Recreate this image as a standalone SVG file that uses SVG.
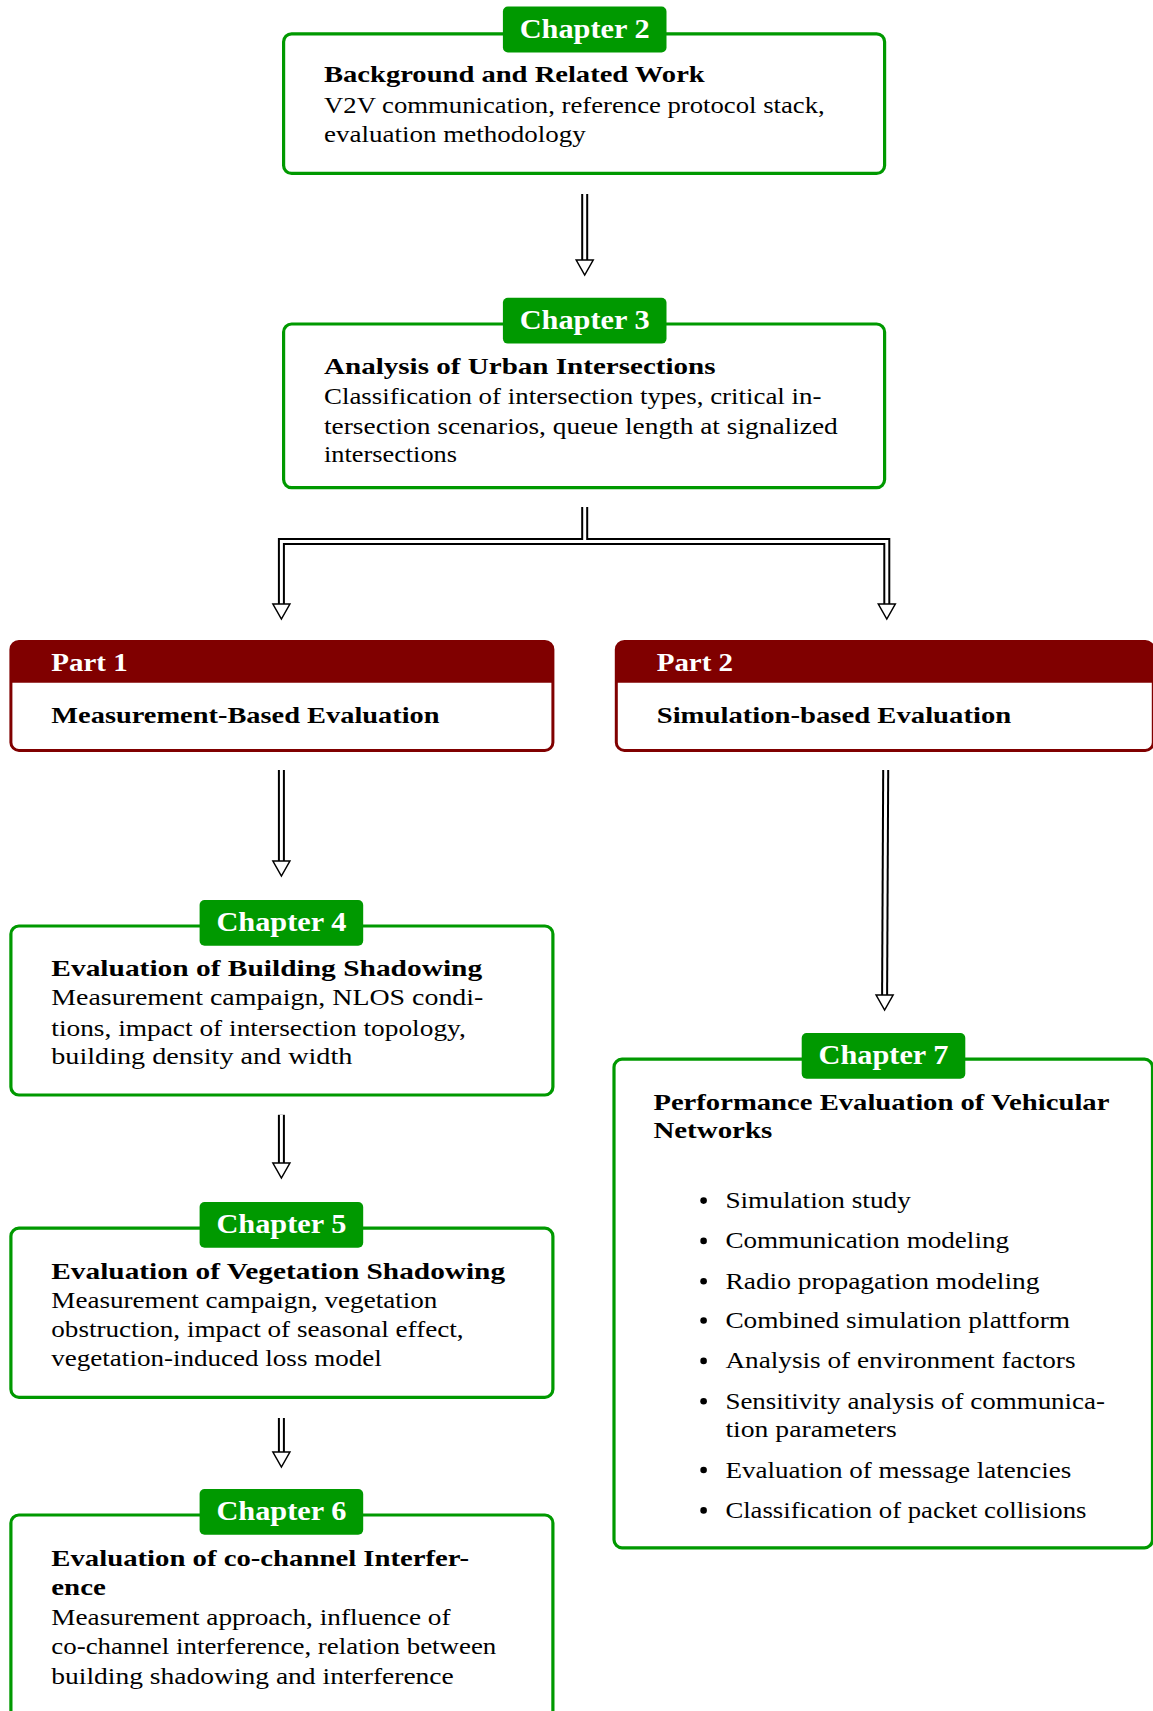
<svg xmlns="http://www.w3.org/2000/svg" xmlns:xlink="http://www.w3.org/1999/xlink" width="1153" height="1711" viewBox="0 0 1153 1711">
  <style>
    text { font-family: "Liberation Serif", "Times New Roman", serif; }
    .box { fill: #ffffff; stroke: #009900; stroke-width: 3.2; }
    .tagbg { fill: #009900; }
    .tag { fill: #ffffff; font-size: 26.5px; font-weight: bold; text-anchor: middle; }
    .pbox { fill: none; stroke: #800000; stroke-width: 3; }
    .pbg { fill: #ffffff; }
    .phead { fill: #800000; }
    .ptxt { fill: #ffffff; font-size: 26px; font-weight: bold; }
    .t { fill: #000000; font-size: 24px; font-weight: bold; }
    .b { fill: #000000; font-size: 24px; }
    .dot { fill: #000000; }
    .rail-o { fill: none; stroke: #000000; stroke-width: 7; stroke-linejoin: miter; stroke-linecap: butt; }
    .rail-i { fill: none; stroke: #ffffff; stroke-width: 3; stroke-linejoin: miter; stroke-linecap: butt; }
    .head { fill: #ffffff; stroke: #000000; stroke-width: 1.5; stroke-linejoin: miter; }
  </style>
  <defs>
    <polygon id="arrowhead" points="-8.5,-15 8.5,-15 0,0"/>
    <path id="r1" d="M584.7 194 V261"/>
    <path id="r2" d="M584.7 507 V541.5 M281.4 605 V541.5 H886.8 V605"/>
    <path id="r3" d="M281.4 770 V862"/>
    <path id="r4" d="M885.7 770 L884.6 996"/>
    <path id="r5" d="M281.4 1114.8 V1164"/>
    <path id="r6" d="M281.4 1418 V1453"/>
  </defs>

  <rect width="1153" height="1711" fill="#ffffff"/>

  <!-- connectors: double rails with open heads -->
  <g id="connectors">
    <use xlink:href="#r1" href="#r1" class="rail-o"/>
    <use xlink:href="#r2" href="#r2" class="rail-o"/>
    <use xlink:href="#r3" href="#r3" class="rail-o"/>
    <use xlink:href="#r4" href="#r4" class="rail-o"/>
    <use xlink:href="#r5" href="#r5" class="rail-o"/>
    <use xlink:href="#r6" href="#r6" class="rail-o"/>
    <use xlink:href="#r1" href="#r1" class="rail-i"/>
    <use xlink:href="#r2" href="#r2" class="rail-i"/>
    <use xlink:href="#r3" href="#r3" class="rail-i"/>
    <use xlink:href="#r4" href="#r4" class="rail-i"/>
    <use xlink:href="#r5" href="#r5" class="rail-i"/>
    <use xlink:href="#r6" href="#r6" class="rail-i"/>
    <use xlink:href="#arrowhead" href="#arrowhead" class="head" x="584.7" y="275"/>
    <use xlink:href="#arrowhead" href="#arrowhead" class="head" x="281.4" y="619"/>
    <use xlink:href="#arrowhead" href="#arrowhead" class="head" x="886.8" y="619"/>
    <use xlink:href="#arrowhead" href="#arrowhead" class="head" x="281.4" y="876"/>
    <use xlink:href="#arrowhead" href="#arrowhead" class="head" x="884.6" y="1010"/>
    <use xlink:href="#arrowhead" href="#arrowhead" class="head" x="281.4" y="1178"/>
    <use xlink:href="#arrowhead" href="#arrowhead" class="head" x="281.4" y="1467"/>
  </g>

  <!-- Chapter 2 -->
  <g id="chapter2">
    <rect class="box" x="283.6" y="33.8" width="601" height="139.6" rx="8"/>
    <rect class="tagbg" x="502.9" y="6.5" width="163.6" height="45.9" rx="5"/>
    <text class="tag" x="584.7" y="37.5" textLength="130" lengthAdjust="spacingAndGlyphs">Chapter 2</text>
    <text class="t" x="324" y="82.4" textLength="380.7" lengthAdjust="spacingAndGlyphs">Background and Related Work</text>
    <text class="b" x="324" y="112.9" textLength="500.7" lengthAdjust="spacingAndGlyphs">V2V communication, reference protocol stack,</text>
    <text class="b" x="324" y="142.4" textLength="261.8" lengthAdjust="spacingAndGlyphs">evaluation methodology</text>
  </g>

  <!-- Chapter 3 -->
  <g id="chapter3">
    <rect class="box" x="283.6" y="324" width="601" height="163.6" rx="8"/>
    <rect class="tagbg" x="502.9" y="297.8" width="163.6" height="45.8" rx="5"/>
    <text class="tag" x="584.7" y="328.5" textLength="130" lengthAdjust="spacingAndGlyphs">Chapter 3</text>
    <text class="t" x="324" y="373.6" textLength="391.6" lengthAdjust="spacingAndGlyphs">Analysis of Urban Intersections</text>
    <text class="b" x="324" y="404.1" textLength="497.4" lengthAdjust="spacingAndGlyphs">Classification of intersection types, critical in-</text>
    <text class="b" x="324" y="433.6" textLength="513.8" lengthAdjust="spacingAndGlyphs">tersection scenarios, queue length at signalized</text>
    <text class="b" x="324" y="461.9" textLength="133" lengthAdjust="spacingAndGlyphs">intersections</text>
  </g>

  <!-- Part 1 -->
  <g id="part1">
    <rect class="pbg" x="10.9" y="641.4" width="542" height="109" rx="8"/>
    <path class="phead" d="M10.9 682.8 V649.4 Q10.9 641.4 18.9 641.4 H545 Q553 641.4 553 649.4 V682.8 Z"/>
    <rect class="pbox" x="10.9" y="641.4" width="542" height="109" rx="8"/>
    <text class="ptxt" x="51.3" y="670.8" textLength="76.4" lengthAdjust="spacingAndGlyphs">Part 1</text>
    <text class="t" x="51.3" y="722.7" textLength="388.3" lengthAdjust="spacingAndGlyphs">Measurement-Based Evaluation</text>
  </g>

  <!-- Part 2 (runs off the right edge of the sheet) -->
  <g id="part2">
    <rect class="pbg" x="616.3" y="641.4" width="537" height="109" rx="8"/>
    <path class="phead" d="M616.3 682.8 V649.4 Q616.3 641.4 624.3 641.4 H1145.3 Q1153.3 641.4 1153.3 649.4 V682.8 Z"/>
    <rect class="pbox" x="616.3" y="641.4" width="537" height="109" rx="8"/>
    <text class="ptxt" x="656.7" y="670.8" textLength="76.4" lengthAdjust="spacingAndGlyphs">Part 2</text>
    <text class="t" x="656.7" y="722.7" textLength="354.5" lengthAdjust="spacingAndGlyphs">Simulation-based Evaluation</text>
  </g>

  <!-- Chapter 4 -->
  <g id="chapter4">
    <rect class="box" x="10.9" y="926" width="542" height="169" rx="8"/>
    <rect class="tagbg" x="199.6" y="900" width="163.6" height="45.8" rx="5"/>
    <text class="tag" x="281.4" y="931" textLength="130" lengthAdjust="spacingAndGlyphs">Chapter 4</text>
    <text class="t" x="51.3" y="975.7" textLength="430.9" lengthAdjust="spacingAndGlyphs">Evaluation of Building Shadowing</text>
    <text class="b" x="51.3" y="1005.2" textLength="432" lengthAdjust="spacingAndGlyphs">Measurement campaign, NLOS condi-</text>
    <text class="b" x="51.3" y="1035.7" textLength="414.5" lengthAdjust="spacingAndGlyphs">tions, impact of intersection topology,</text>
    <text class="b" x="51.3" y="1064.1" textLength="301" lengthAdjust="spacingAndGlyphs">building density and width</text>
  </g>

  <!-- Chapter 5 -->
  <g id="chapter5">
    <rect class="box" x="10.9" y="1228.2" width="542" height="169.1" rx="8"/>
    <rect class="tagbg" x="199.6" y="1202" width="163.6" height="45.8" rx="5"/>
    <text class="tag" x="281.4" y="1233" textLength="130" lengthAdjust="spacingAndGlyphs">Chapter 5</text>
    <text class="t" x="51.3" y="1279" textLength="453.8" lengthAdjust="spacingAndGlyphs">Evaluation of Vegetation Shadowing</text>
    <text class="b" x="51.3" y="1308.4" textLength="386.1" lengthAdjust="spacingAndGlyphs">Measurement campaign, vegetation</text>
    <text class="b" x="51.3" y="1336.8" textLength="412.3" lengthAdjust="spacingAndGlyphs">obstruction, impact of seasonal effect,</text>
    <text class="b" x="51.3" y="1366.2" textLength="330.5" lengthAdjust="spacingAndGlyphs">vegetation-induced loss model</text>
  </g>

  <!-- Chapter 6 (runs off the bottom of the sheet) -->
  <g id="chapter6">
    <rect class="box" x="10.9" y="1515" width="542" height="230" rx="8"/>
    <rect class="tagbg" x="199.6" y="1489" width="163.6" height="45.8" rx="5"/>
    <text class="tag" x="281.4" y="1519.5" textLength="130" lengthAdjust="spacingAndGlyphs">Chapter 6</text>
    <text class="t" x="51.3" y="1565.8" textLength="417.8" lengthAdjust="spacingAndGlyphs">Evaluation of co-channel Interfer-</text>
    <text class="t" x="51.3" y="1595.3" textLength="54.5" lengthAdjust="spacingAndGlyphs">ence</text>
    <text class="b" x="51.3" y="1624.7" textLength="399.2" lengthAdjust="spacingAndGlyphs">Measurement approach, influence of</text>
    <text class="b" x="51.3" y="1654.2" textLength="445" lengthAdjust="spacingAndGlyphs">co-channel interference, relation between</text>
    <text class="b" x="51.3" y="1683.6" textLength="402.5" lengthAdjust="spacingAndGlyphs">building shadowing and interference</text>
  </g>

  <!-- Chapter 7 -->
  <g id="chapter7">
    <rect class="box" x="614" y="1059.2" width="538.5" height="488.6" rx="8"/>
    <rect class="tagbg" x="801.7" y="1033" width="163.6" height="45.8" rx="5"/>
    <text class="tag" x="883.5" y="1064" textLength="130" lengthAdjust="spacingAndGlyphs">Chapter 7</text>
    <text class="t" x="653.4" y="1109.9" textLength="456" lengthAdjust="spacingAndGlyphs">Performance Evaluation of Vehicular</text>
    <text class="t" x="653.4" y="1138.2" textLength="118.9" lengthAdjust="spacingAndGlyphs">Networks</text>
    <circle class="dot" cx="703.6" cy="1200.6" r="3.3"/>
    <text class="b" x="725.4" y="1208.1" textLength="185.4" lengthAdjust="spacingAndGlyphs">Simulation study</text>
    <circle class="dot" cx="703.6" cy="1240.9" r="3.3"/>
    <text class="b" x="725.4" y="1248.4" textLength="283.6" lengthAdjust="spacingAndGlyphs">Communication modeling</text>
    <circle class="dot" cx="703.6" cy="1281.3" r="3.3"/>
    <text class="b" x="725.4" y="1288.8" textLength="314.2" lengthAdjust="spacingAndGlyphs">Radio propagation modeling</text>
    <circle class="dot" cx="703.6" cy="1320.5" r="3.3"/>
    <text class="b" x="725.4" y="1328" textLength="344.7" lengthAdjust="spacingAndGlyphs">Combined simulation plattform</text>
    <circle class="dot" cx="703.6" cy="1360.9" r="3.3"/>
    <text class="b" x="725.4" y="1368.4" textLength="350.1" lengthAdjust="spacingAndGlyphs">Analysis of environment factors</text>
    <circle class="dot" cx="703.6" cy="1401.3" r="3.3"/>
    <text class="b" x="725.4" y="1408.8" textLength="379.6" lengthAdjust="spacingAndGlyphs">Sensitivity analysis of communica-</text>
    <text class="b" x="725.4" y="1437.2" textLength="171.3" lengthAdjust="spacingAndGlyphs">tion parameters</text>
    <circle class="dot" cx="703.6" cy="1470" r="3.3"/>
    <text class="b" x="725.4" y="1477.5" textLength="345.8" lengthAdjust="spacingAndGlyphs">Evaluation of message latencies</text>
    <circle class="dot" cx="703.6" cy="1510.4" r="3.3"/>
    <text class="b" x="725.4" y="1517.9" textLength="361" lengthAdjust="spacingAndGlyphs">Classification of packet collisions</text>
  </g>
</svg>
